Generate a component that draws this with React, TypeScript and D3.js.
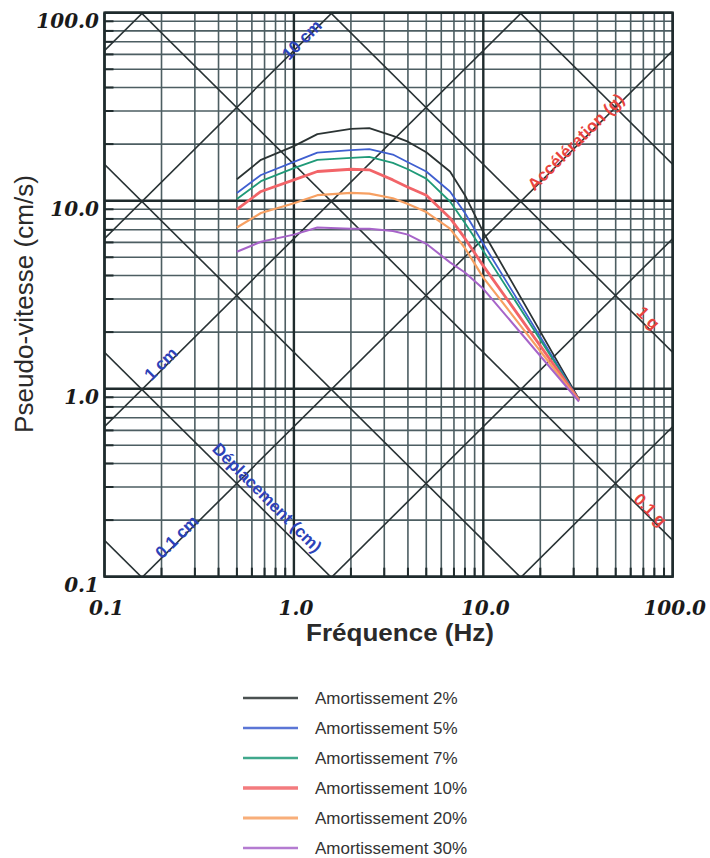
import React from "react";
import * as d3 from "d3";

// ---- Data ----
const frequencies = [0.5, 0.67, 1.0, 1.33, 2.0, 2.5, 3.33, 4.0, 5.0, 6.67, 8.0, 10.0, 32];
const damping2 = [13.0, 16.5, 19.5, 22.6, 24.1, 24.3, 22.1, 20.6, 18.1, 14.3, 10.7, 6.8, 0.88];
const damping5 = [11.0, 13.7, 16.1, 18.0, 18.6, 18.8, 17.6, 16.0, 14.3, 11.2, 8.6, 5.9, 0.87];
const damping7 = [10.2, 12.7, 14.9, 16.5, 16.9, 17.1, 15.9, 14.7, 13.1, 9.9, 7.6, 5.4, 0.87];
const damping10 = [9.0, 11.2, 12.9, 14.3, 14.7, 14.6, 12.9, 11.8, 10.7, 8.1, 6.3, 4.5, 0.87];
const damping20 = [7.2, 8.6, 9.7, 10.7, 11.0, 10.9, 10.3, 9.6, 8.7, 7.1, 5.6, 3.9, 0.86];
const damping30 = [5.35, 6.05, 6.6, 7.2, 7.1, 7.1, 6.9, 6.6, 5.9, 4.7, 4.15, 3.4, 0.855];

const seriesNames = [
  "Amortissement 2%",
  "Amortissement 5%",
  "Amortissement 7%",
  "Amortissement 10%",
  "Amortissement 20%",
  "Amortissement 30%",
];
const seriesValues = [damping2, damping5, damping7, damping10, damping20, damping30];
const seriesColors = ["#2b3333", "#3f5fd0", "#1f9a78", "#f26468", "#f7a062", "#a764c9"];
const seriesWidths = [1.8, 1.8, 1.8, 2.8, 2.2, 2.0];

const xTicks = [0.1, 1, 10, 100];
const xTickLabels = ["0.1", "1.0", "10.0", "100.0"];
const yTicks = [100, 10, 1, 0.1];
const yTickLabels = ["100.0", "10.0", "1.0", "0.1"];

const displacementLines = [0.001, 0.01, 0.1, 1, 10, 100]; // cm
const accelerationLines = [0.0001, 0.001, 0.01, 0.1, 1, 10]; // g

const diagLabels = [
  { text: "10 cm", f: 1.104, v: 71.6, angle: -45, color: "#2d42b8" },
  { text: "1 cm", f: 0.1987, v: 1.353, angle: -45, color: "#2d42b8" },
  { text: "0.1 cm", f: 0.2414, v: 0.1626, angle: -45, color: "#2d42b8" },
  { text: "Déplacement (cm)", f: 0.721, v: 0.2622, angle: 45, color: "#2d42b8" },
  { text: "Accélération (g)", f: 30.86, v: 20.5, angle: -45, color: "#e8443e" },
  { text: "1 g", f: 74.1, v: 2.377, angle: 45, color: "#e8443e" },
  { text: "0.1 g", f: 75.9, v: 0.2264, angle: 45, color: "#e8443e" },
];

const G = 981;

export default function App() {
  const L = 104.5, R = 672.7, T = 12.7, B = 576.7;
  const x = d3.scaleLog().domain([0.1, 100]).range([L, R]);
  const y = d3.scaleLog().domain([0.1, 100]).range([B, T]);

  const minor: number[] = [];
  for (const dec of [0.1, 1, 10]) {
    for (let k = 2; k <= 9; k++) minor.push(dec * k);
  }
  const major = [0.1, 1, 10, 100];

  const line = d3
    .line<[number, number]>()
    .x((d) => x(d[0]))
    .y((d) => y(d[1]));

  const gridMinor = "#3a4d52";
  const gridMajor = "#1f2b2d";

  return (
    <svg
      width={710}
      height={858}
      style={{ position: "absolute", left: 0, top: 0, background: "#fff" }}
      fontFamily="'Liberation Sans', Arial, sans-serif"
    >
      <defs>
        <clipPath id="plotclip">
          <rect x={L} y={T} width={R - L} height={B - T} />
        </clipPath>
      </defs>
      <rect x={0} y={0} width={710} height={858} fill="#fff" />

      {/* minor grid */}
      <g stroke={gridMinor} strokeWidth={1.6} opacity={0.9}>
        {minor.map((m) => (
          <line key={"vx" + m} x1={x(m)} x2={x(m)} y1={T} y2={B} />
        ))}
        {minor.map((m) => (
          <line key={"hy" + m} x1={L} x2={R} y1={y(m)} y2={y(m)} />
        ))}
      </g>
      {/* inward ticks */}
      <g stroke={gridMajor} strokeWidth={2}>
        {minor.map((m) => (
          <line key={"tx" + m} x1={x(m)} x2={x(m)} y1={B} y2={B - 9} />
        ))}
        {minor.map((m) => (
          <line key={"ty" + m} x1={L} x2={L + 9} y1={y(m)} y2={y(m)} />
        ))}
      </g>
      {/* major grid */}
      <g stroke={gridMajor} strokeWidth={2.4}>
        {major.map((m) => (
          <line key={"mx" + m} x1={x(m)} x2={x(m)} y1={T} y2={B} />
        ))}
        {major.map((m) => (
          <line key={"my" + m} x1={L} x2={R} y1={y(m)} y2={y(m)} />
        ))}
      </g>

      {/* tripartite diagonal lines */}
      <g clipPath="url(#plotclip)" stroke="#283234" strokeWidth={1.6} fill="none">
        {displacementLines.map((D) => (
          <path
            key={"d" + D}
            d={line([
              [0.01, 2 * Math.PI * 0.01 * D],
              [1000, 2 * Math.PI * 1000 * D],
            ]) || ""}
          />
        ))}
        {accelerationLines.map((A) => (
          <path
            key={"a" + A}
            d={line([
              [0.01, (A * G) / (2 * Math.PI * 0.01)],
              [1000, (A * G) / (2 * Math.PI * 1000)],
            ]) || ""}
          />
        ))}
      </g>

      {/* diagonal labels */}
      {diagLabels.map((lb) => (
        <text
          key={lb.text}
          transform={`translate(${x(lb.f)},${y(lb.v)}) rotate(${lb.angle})`}
          textAnchor="middle"
          dominantBaseline="central"
          fontSize={17}
          fontWeight="bold"
          fill={lb.color}
        >
          {lb.text}
        </text>
      ))}

      {/* data series */}
      <g fill="none" strokeLinejoin="round">
        {seriesValues.map((vals, i) => (
          <path
            key={seriesNames[i]}
            d={line(frequencies.map((f, j) => [f, vals[j]] as [number, number])) || ""}
            stroke={seriesColors[i]}
            strokeWidth={seriesWidths[i]}
          />
        ))}
      </g>

      {/* border */}
      <rect x={L} y={T} width={R - L} height={B - T} fill="none" stroke={gridMajor} strokeWidth={2.4} />

      {/* tick labels */}
      <g fontFamily="'DejaVu Serif', serif" fontStyle="italic" fontWeight="bold" fontSize={20} fill="#1a1a1a">
        {yTicks.map((t, i) => (
          <text key={"yl" + t} x={99} y={y(t) + 15} textAnchor="end">
            {yTickLabels[i]}
          </text>
        ))}
        {xTicks.map((t, i) => (
          <text key={"xl" + t} x={x(t) + 2} y={615} textAnchor="middle">
            {xTickLabels[i]}
          </text>
        ))}
      </g>

      {/* axis titles */}
      <text
        x={400}
        y={641}
        textAnchor="middle"
        fontSize={24}
        fontWeight="bold"
        fill="#2a2a2a"
        textLength={188}
        lengthAdjust="spacingAndGlyphs"
      >
        Fréquence (Hz)
      </text>
      <text
        transform={`translate(33,304) rotate(-90)`}
        textAnchor="middle"
        fontSize={25}
        fill="#2a2a2a"
        textLength={258}
        lengthAdjust="spacingAndGlyphs"
      >
        Pseudo-vitesse (cm/s)
      </text>

      {/* legend */}
      <g>
        {seriesNames.map((name, i) => {
          const ly = 698 + i * 30;
          return (
            <g key={"lg" + name}>
              <line
                x1={243}
                x2={298}
                y1={ly}
                y2={ly}
                stroke={seriesColors[i]}
                strokeWidth={seriesWidths[i] + 0.6}
                opacity={0.85}
              />
              <text x={315} y={ly + 6} fontSize={17} fill="#333">
                {name}
              </text>
            </g>
          );
        })}
      </g>
    </svg>
  );
}
